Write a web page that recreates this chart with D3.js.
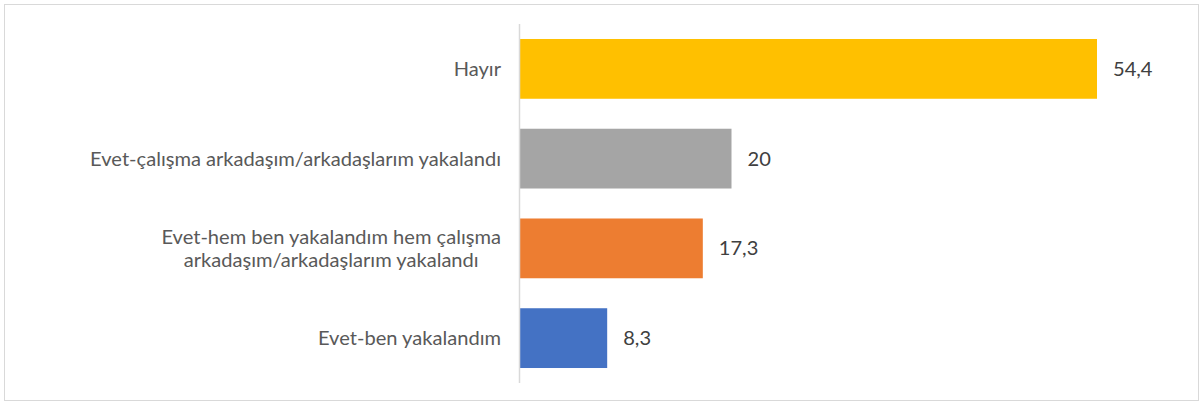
<!DOCTYPE html>
<html>
<head>
<meta charset="utf-8">
<script src="https://cdn.jsdelivr.net/npm/d3@7"></script>
<style>
  body { margin: 0; background: #ffffff; }
  svg text { font-family: Lato, "Open Sans", sans-serif; }
</style>
</head>
<body>
<div id="chart"></div>
<script>
// chart data, top bar first
var categories = [
  "Hayır",
  "Evet-çalışma arkadaşım/arkadaşlarım yakalandı",
  "Evet-hem ben yakalandım hem çalışma|arkadaşım/arkadaşlarım yakalandı",
  "Evet-ben yakalandım"
];
var values = [54.4, 20, 17.3, 8.3];
var colors = ["#FFC000", "#A5A5A5", "#ED7D31", "#4472C4"];

var W = 1203, H = 403;
var axisX = 519, plotTop = 24, plotBottom = 383;

var svg = d3.select("#chart").append("svg")
    .attr("width", W)
    .attr("height", H);

// outer frame
svg.append("rect")
    .attr("x", 4.5).attr("y", 4.5)
    .attr("width", W - 9).attr("height", H - 7)
    .attr("fill", "#fff")
    .attr("stroke", "#D9D9D9")
    .attr("stroke-width", 1);

var x = d3.scaleLinear().domain([0, 54.4]).range([axisX, 1097]);
var y = d3.scaleBand()
    .domain(categories)
    .range([plotTop, plotBottom])
    .paddingInner(0.334)
    .paddingOuter(0.167);

var fmt = d3.formatLocale({decimal: ",", thousands: ".", grouping: [3], currency: ["", ""]}).format("~g");

var data = categories.map(function(c, i) { return {cat: c, val: values[i], color: colors[i]}; });

//bars
svg.selectAll(".bar")
  .data(data)
  .enter().append("rect")
    .attr("class", "bar")
    .attr("x", x(0))
    .attr("y", function(d) { return y(d.cat); })
    .attr("width", function(d) { return x(d.val) - x(0); })
    .attr("height", y.bandwidth())
    .attr("fill", function(d) { return d.color; });

//vertical axis line
svg.append("line")
    .attr("x1", axisX + 0.5).attr("x2", axisX + 0.5)
    .attr("y1", plotTop).attr("y2", plotBottom)
    .attr("stroke", "#D9D9D9")
    .attr("stroke-width", 1.5);

//category labels (multi line ones are centered as a block, right aligned)
var fontSize = 20.1;
var labels = svg.selectAll(".cat")
  .data(data)
  .enter().append("text")
    .attr("class", "cat")
    .attr("fill", "#595959")
    .style("font-size", fontSize + "px");

labels.each(function(d) {
  var lines = d.cat.split("|");
  var t = d3.select(this);
  var cy = y(d.cat) + y.bandwidth() / 2;
  var lh = 23.5;
  lines.forEach(function(l, i) {
    t.append("tspan")
      .attr("y", cy + (i - (lines.length - 1) / 2) * lh)
      .attr("dy", "0.35em")
      .text(l);
  });
  // measure lines for right aligned, centered block
  var spans = t.selectAll("tspan").nodes();
  var widths = spans.map(function(s) { return s.getComputedTextLength(); });
  var maxW = d3.max(widths);
  var right = 501;
  spans.forEach(function(s, i) {
    d3.select(s).attr("x", right - maxW / 2).attr("text-anchor", "middle");
  });
});

//value labels
svg.selectAll(".val")
  .data(data)
  .enter().append("text")
    .attr("class", "val")
    .attr("x", function(d) { return x(d.val) + 16; })
    .attr("y", function(d) { return y(d.cat) + y.bandwidth() / 2; })
    .attr("dy", "0.35em")
    .attr("fill", "#404040")
    .style("font-size", fontSize + "px")
    .text(function(d) { return fmt(d.val); });
</script>
</body>
</html>
